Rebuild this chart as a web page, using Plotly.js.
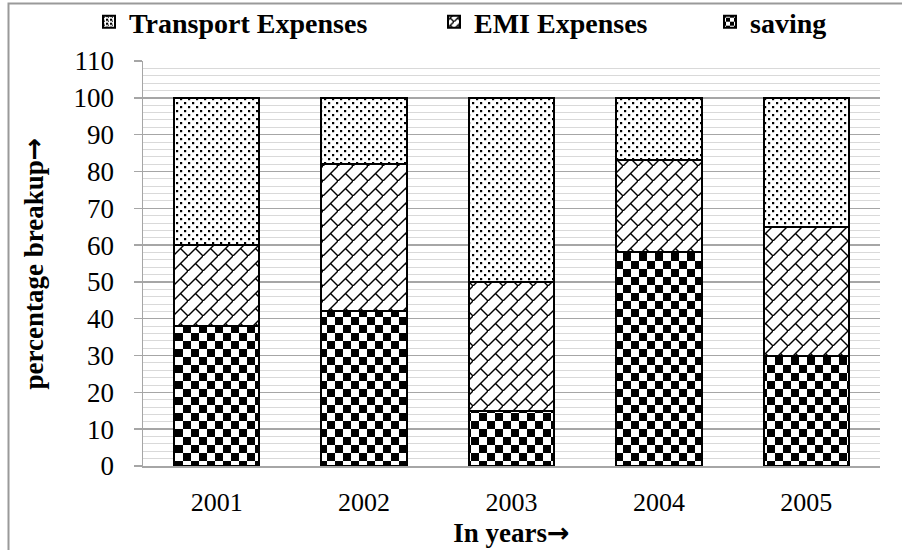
<!DOCTYPE html>
<html><head><meta charset="utf-8">
<script src="https://cdn.plot.ly/plotly-3.0.1.min.js"></script>
<style>html,body{margin:0;padding:0;background:#fff;} #chart{width:902px;height:550px;}</style>
</head><body><div id="chart"></div>
<script>
// ---- data ----
var years = ['2001', '2002', '2003', '2004', '2005'];
var saving = [38, 42, 15, 58, 30];
var emiExpenses = [22, 40, 35, 25, 35];
var transportExpenses = [40, 18, 50, 17, 35];
var seriesNames = ['saving', 'EMI Expenses', 'Transport Expenses'];
var yTickVals = [0, 10, 20, 30, 40, 50, 60, 70, 80, 90, 100, 110];
var ARROW = '<span style="font-family:\'DejaVu Sans\'">→</span>';
var xTitle = 'In years' + ARROW;
var yTitle = 'percentage breakup' + ARROW;

var FONT = "'Liberation Serif', 'DejaVu Serif', serif";
var YTICK = 27, XTICK = 26, BOLD = 27;
var W = 902, H = 550;
var M = {l: 143, r: 22, t: 61, b: 84};
var PW = W - M.l - M.r, PH = H - M.t - M.b;

function barTrace(name, vals, shape, legendId) {
  return {
    type: 'bar', name: name, x: years, y: vals, legend: legendId,
    marker: {color: '#ffffff', line: {color: '#000000', width: 2},
      pattern: {shape: shape, fgcolor: '#000000', bgcolor: '#ffffff', size: 8, solidity: 0.3}},
    hoverinfo: 'skip'
  };
}

var data = [
  barTrace(seriesNames[0], saving, '+', 'legend3'),
  barTrace(seriesNames[1], emiExpenses, '/', 'legend2'),
  barTrace(seriesNames[2], transportExpenses, '.', 'legend')
];

function legendAt(px) {
  return {x: px / W, xref: 'container', xanchor: 'left', y: 1 - 22 / H, yref: 'container', yanchor: 'middle',
    orientation: 'h', bgcolor: 'rgba(0,0,0,0)', borderwidth: 0,
    font: {family: FONT, size: 28, color: '#000', weight: 'bold'}};
}

var layout = {
  width: W, height: H, margin: M,
  paper_bgcolor: '#ffffff', plot_bgcolor: '#ffffff',
  barmode: 'stack', bargap: 0.42,
  font: {family: FONT, color: '#000000', size: YTICK},
  showlegend: true,
  legend: legendAt(89),
  legend2: legendAt(434),
  legend3: legendAt(710),
  xaxis: {
    type: 'category', showline: true, linecolor: '#a6a6a6', linewidth: 1.5,
    ticks: '', showgrid: false, zeroline: false,
    tickfont: {family: FONT, size: XTICK, color: '#000'}, ticklabelstandoff: 12,
    title: {text: xTitle, font: {family: FONT, size: BOLD, color: '#000', weight: 'bold'}, standoff: 2}
  },
  yaxis: {
    range: [0, 110], tickmode: 'array', tickvals: yTickVals,
    showline: true, linecolor: '#a6a6a6', linewidth: 1.5,
    ticks: 'outside', ticklen: 8, tickcolor: '#a6a6a6', tickwidth: 1.5,
    showgrid: true, gridcolor: '#a6a6a6', gridwidth: 1.5, zeroline: false,
    minor: {dtick: 2, tick0: 0, showgrid: true, gridcolor: '#d9d9d9', gridwidth: 1, ticks: ''},
    tickfont: {family: FONT, size: YTICK, color: '#000'}, ticklabelstandoff: 14,
    title: {text: yTitle, font: {family: FONT, size: BOLD, color: '#000', weight: 'bold'}, standoff: 22}
  },
  shapes: [{
    type: 'rect', xref: 'paper', yref: 'paper', layer: 'below',
    x0: (8.5 - M.l) / PW, x1: (906 - M.l) / PW,
    y0: -(H + 10 - (H - M.b)) / PH, y1: 1 + (M.t - 3.5) / PH,
    line: {color: '#9a9a9a', width: 2}, fillcolor: 'rgba(0,0,0,0)'
  }]
};

var gd = document.getElementById('chart');
Plotly.newPlot(gd, data, layout, {staticPlot: true, displayModeBar: false}).then(function () {
  var NS = 'http://www.w3.org/2000/svg';
  var svg = gd.querySelector('svg.main-svg');
  var defs = svg.querySelector('defs');
  function el(tag, attrs, parent) {
    var e = document.createElementNS(NS, tag);
    for (var k in attrs) e.setAttribute(k, attrs[k]);
    if (parent) parent.appendChild(e);
    return e;
  }
  function makePatterns(suffix, s) {
    var p = el('pattern', {id: 'chk' + suffix, width: 16 * s, height: 16 * s, patternUnits: 'userSpaceOnUse'}, defs);
    el('rect', {x: 0, y: 0, width: 16 * s, height: 16 * s, fill: '#fff'}, p);
    el('rect', {x: 0, y: 0, width: 8 * s, height: 8 * s, fill: '#000'}, p);
    el('rect', {x: 8 * s, y: 8 * s, width: 8 * s, height: 8 * s, fill: '#000'}, p);
    var q = el('pattern', {id: 'emi' + suffix, width: 15 * s, height: 15 * s, patternUnits: 'userSpaceOnUse'}, defs);
    el('rect', {x: 0, y: 0, width: 15 * s, height: 15 * s, fill: '#fff'}, q);
    el('path', {d: 'M-1,' + (15 * s + 1) + 'L' + (15 * s + 1) + ',-1', stroke: '#000', 'stroke-width': 1.4, fill: 'none'}, q);
    el('path', {d: 'M' + (7.5 * s) + ',' + (7.5 * s) + 'L' + (15 * s) + ',' + (15 * s), stroke: '#000', 'stroke-width': 1.4, fill: 'none'}, q);
    var r = el('pattern', {id: 'dot' + suffix, width: 8 * s, height: 8 * s, patternUnits: 'userSpaceOnUse'}, defs);
    el('rect', {x: 0, y: 0, width: 8 * s, height: 8 * s, fill: '#fff'}, r);
    el('rect', {x: 1, y: 1, width: 2.2, height: 2.2, fill: '#000'}, r);
    el('rect', {x: 4 * s + 1, y: 4 * s + 1, width: 2.2, height: 2.2, fill: '#000'}, r);
  }
  makePatterns('', 1);
  makePatterns('L', 0.5);
  var fills = ['chk', 'emi', 'dot'];
  gd.querySelectorAll('.barlayer .trace').forEach(function (g) {
    var d = g.__data__; var idx = d && d[0] && d[0].trace ? d[0].trace.index : null;
    if (idx === null) return;
    g.querySelectorAll('.point path').forEach(function (p) { p.style.fill = 'url(#' + fills[idx] + ')'; });
  });
  gd.querySelectorAll('g.traces').forEach(function (g) {
    var d = g.__data__; var idx = d && d[0] && d[0].trace ? d[0].trace.index : null;
    if (idx === null) return;
    g.querySelectorAll('.legendpoints path').forEach(function (p) { p.style.fill = 'url(#' + fills[idx] + 'L)'; });
  });
});
</script>
</body></html>
